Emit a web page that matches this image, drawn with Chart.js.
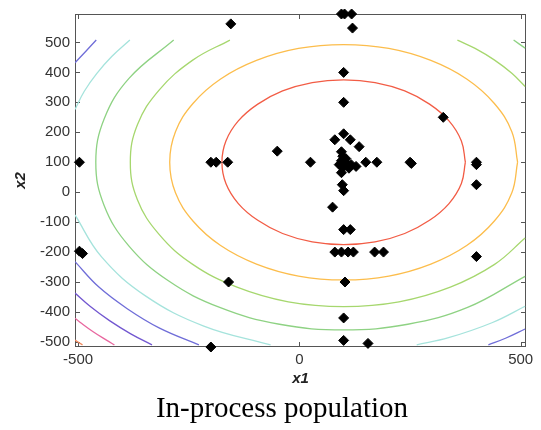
<!DOCTYPE html>
<html>
<head>
<meta charset="utf-8">
<script src="https://cdn.jsdelivr.net/npm/chart.js@4"></script>
<style>
html, body { margin: 0; padding: 0; background: #fff; }
#wrap { position: relative; width: 541px; height: 430px; }
#caption { position: absolute; left: 0; top: 393px; width: 564px; text-align: center;
  font: 29px "Liberation Serif", serif; line-height: 29px; color: #000; }
</style>
</head>
<body>
<div id="wrap">
  <canvas id="myChart" width="541" height="430"></canvas>
  <div id="caption">In-process population</div>
</div>
<script>
const xTicks = [-500, 0, 500];
const yTicks = [-500, -400, -300, -200, -100, 0, 100, 200, 300, 400, 500];

// population (x1, x2)
const popX = [95, 102, 118, 120, -155, 100, 100, 325, -50, 100, 80, 115, 135, 25, -200, -188, -162, -497,
  95, 98, 95, 106, 117, 128, 98, 112, 95, 100, 105, 90, 150, 175, 250, 253, 400, 400, 400, 97, 100,
  75, 100, 115, 80, 95, 110, 122, 170, 190, 400, 103, 100, 100, 155, -497, -490, -160, -200];
const popY = [595, 595, 595, 548, 562, 400, 300, 250, 137, 195, 175, 175, 152, 100, 100, 100, 100, 100,
  135, 120, 105, 97, 92, 86, 82, 80, 65, 100, 112, 92, 100, 100, 100, 96, 100, 92, 25, 25, 5,
  -50, -125, -125, -200, -200, -200, -200, -200, -200, -215, -300, -420, -495, -505, -197, -205, -300, -517];

// contour lines, innermost first
const level1 = [[375,100],[366,171],[338,238],[294,294],[238,338],[171,366],[100,375],[29,366],[-38,338],
  [-94,294],[-138,238],[-166,171],[-175,100],[-166,29],[-138,-38],[-94,-94],[-38,-138],[29,-166],
  [100,-175],[171,-166],[238,-138],[294,-94],[338,-38],[366,29],[375,100]];
const level2 = [[493,100],[480,202],[440,297],[378,378],[297,440],[202,480],[100,493],[-2,480],[-97,440],
  [-178,378],[-240,297],[-280,202],[-293,100],[-280,-2],[-240,-97],[-178,-178],[-97,-240],[-2,-280],
  [100,-293],[202,-280],[297,-240],[378,-178],[440,-97],[480,-2],[493,100]];
const level3a = [[357,508],[397,480],[441,441],[480,397],[510,353]];
const level3b = [[-157,508],[-241,441],[-317,341],[-366,225],[-382,100],[-366,-25],[-317,-141],[-241,-241],
  [-141,-317],[-25,-366],[100,-382],[225,-366],[341,-317],[441,-241],[510,-153]];
const level4a = [[484,508],[510,481]];
const level4b = [[-284,508],[-385,380],[-441,245],[-460,100],[-441,-45],[-385,-180],[-296,-296],[-180,-385],
  [-45,-441],[100,-460],[245,-441],[380,-385],[510,-281]];
const level5a = [[-383,508],[-424,453],[-458,396],[-486,337],[-507,276]];
const level5b = [[-507,-76],[-447,-216],[-347,-347],[-216,-447],[-65,-510]];
const level5c = [[265,-510],[337,-486],[435,-436],[510,-381]];
const level6a = [[-459,508],[-507,432]];
const level6b = [[-507,-232],[-453,-317],[-389,-389],[-317,-453],[-227,-510]];
const level6c = [[427,-510],[467,-487],[510,-457]];
const level7 = [[-507,-337],[-473,-381],[-429,-429],[-381,-473],[-333,-510]];
const level8 = [[-507,-421],[-495,-435],[-466,-466],[-435,-495],[-418,-510]];
const level9 = [[-507,-494],[-490,-510]];

const contours = [[level1], [level2], [level3a, level3b], [level4a, level4b], [level5a, level5b, level5c],
  [level6a, level6b, level6c], [level7], [level8], [level9]];
const levelColors = ["#f25c45", "#fcbd4c", "#a6d76e", "#8ed283", "#a5e3dc", "#6f6dd8", "#7257d0", "#e8679f", "#f28a5e"];

const datasets = [{
  data: popX.map((x, i) => ({x: x, y: popY[i]})),
  pointStyle: "rectRot",
  pointRadius: 5,
  backgroundColor: "#000",
  borderColor: "#000",
  borderWidth: 1,
  clip: false
}];
contours.forEach((pieces, k) => {
  pieces.forEach(p => {
    datasets.push({
      data: p.map(q => ({x: q[0], y: q[1]})),
      showLine: true,
      borderColor: levelColors[k],
      borderWidth: 1.3,
      pointRadius: 0,
      tension: 0.4,
      fill: false
    });
  });
});

const frame = {
  id: "frame",
  beforeDatasetsDraw(chart) {
    const {ctx, chartArea: a, scales: {x, y}} = chart;
    ctx.save();
    ctx.strokeStyle = "#555";
    ctx.lineWidth = 1;
    ctx.strokeRect(a.left + 0.5, a.top + 0.5, a.right - a.left - 1, a.bottom - a.top - 1);
    ctx.beginPath();
    xTicks.forEach(v => {
      const px = Math.round(x.getPixelForValue(v)) + 0.5;
      ctx.moveTo(px, a.bottom); ctx.lineTo(px, a.bottom - 5);
      ctx.moveTo(px, a.top); ctx.lineTo(px, a.top + 5);
    });
    yTicks.forEach(v => {
      const py = Math.round(y.getPixelForValue(v)) + 0.5;
      ctx.moveTo(a.left, py); ctx.lineTo(a.left + 5, py);
      ctx.moveTo(a.right, py); ctx.lineTo(a.right - 5, py);
    });
    ctx.stroke();
    ctx.restore();
  }
};

const tickFont = {family: "Liberation Sans", size: 15};
const titleFont = {family: "Liberation Sans", size: 15, weight: "bold", style: "italic"};

new Chart("myChart", {
  type: "scatter",
  data: {datasets: datasets},
  options: {
    responsive: false,
    animation: false,
    devicePixelRatio: 1,
    layout: {padding: {top: 8, right: 15, left: 0, bottom: 0}},
    plugins: {legend: {display: false}, tooltip: {enabled: false}},
    scales: {
      x: {
        type: "linear", min: -507, max: 512,
        afterBuildTicks: s => { s.ticks = xTicks.map(v => ({value: v})); },
        afterFit: s => { s.height = 83; },
        grid: {display: false, drawTicks: false},
        border: {display: false},
        ticks: {padding: 4, color: "#333", font: tickFont, maxRotation: 0, autoSkip: false},
        title: {display: true, text: "x1", color: "#222", font: titleFont, padding: {top: 0, bottom: 42}}
      },
      y: {
        type: "linear", min: -517, max: 595,
        afterBuildTicks: s => { s.ticks = yTicks.map(v => ({value: v})); },
        afterFit: s => { s.width = 75; },
        grid: {display: false, drawTicks: false},
        border: {display: false},
        ticks: {padding: 5, color: "#333", font: tickFont, autoSkip: false},
        title: {display: true, text: "x2", color: "#222", font: titleFont, padding: {top: 12, bottom: 0}}
      }
    }
  },
  plugins: [frame]
});
</script>
</body>
</html>
